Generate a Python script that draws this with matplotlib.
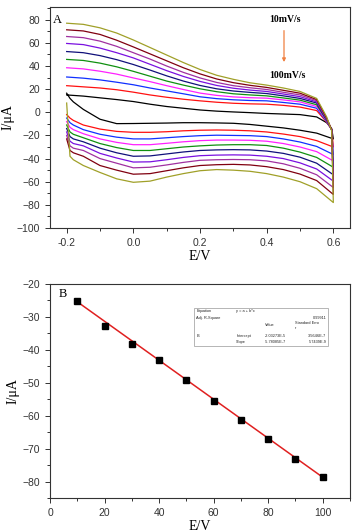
import matplotlib
matplotlib.use("Agg")
import matplotlib.pyplot as plt
from matplotlib.ticker import MultipleLocator
from matplotlib.patches import Rectangle

# ---------------- Panel A data: cyclic voltammograms ----------------
rates = ["10mV/s", "20mV/s", "30mV/s", "40mV/s", "50mV/s",
         "60mV/s", "70mV/s", "80mV/s", "90mV/s", "100mV/s"]
colors = ["#000000", "#ff1010", "#1030ff", "#ff20ff", "#109010",
          "#10107a", "#7a10e0", "#a030a0", "#800010", "#a0a028"]

E_up = [-0.2, -0.15, -0.1, -0.05, 0.0, 0.05, 0.1, 0.15, 0.2, 0.25, 0.3,
        0.35, 0.4, 0.45, 0.5, 0.55, 0.58, 0.595]
I_up = [
    [15, 14, 12.5, 11, 9.3, 7, 5, 3.5, 2, 1, 0.3, -0.3, -1, -1.5, -2, -4, -9, -14],
    [23, 22, 21, 19.5, 17.4, 15, 13, 11.3, 9.9, 8.7, 7.8, 7.3, 7, 6, 4.5, 1.5, -8.5, -15],
    [30.5, 29.5, 28, 26, 23.8, 21, 18.5, 16, 13.4, 11.8, 10.8, 10.2, 9.9, 8.5, 7, 3.5, -8, -15],
    [38.5, 37.5, 35.5, 33, 29.7, 26.5, 23, 19.7, 16.6, 14.6, 13.3, 12.6, 12.2, 10.7, 9, 5, -7.5, -15],
    [45.7, 44.8, 42.5, 39.3, 35.4, 31.2, 27, 23.5, 20.3, 17.8, 16, 15, 14.2, 12.4, 10.5, 6.5, -7, -15],
    [52.5, 51.5, 49, 45.5, 41.3, 36.5, 31.5, 27, 23.2, 20.3, 18.4, 17.2, 16.2, 14.2, 12, 8, -6.5, -15],
    [59.5, 58.5, 55.5, 51.5, 47, 41.5, 36, 31, 26.7, 23.2, 20.8, 19.2, 18, 15.8, 13.5, 9, -6, -15],
    [65.5, 64.5, 61.5, 57, 51.5, 46, 40, 34.5, 29.7, 25.8, 23, 21.2, 19.7, 17.3, 15, 10, -5.5, -15],
    [71.3, 70.3, 67.3, 62.3, 56.5, 50.5, 44.5, 38.5, 33.2, 28.8, 25.6, 23.3, 21.5, 19, 16.5, 11, -5, -15],
    [77, 76, 73, 68.5, 62.5, 56, 49.5, 43, 37, 32, 28.5, 25.5, 23.5, 21, 18, 12, -4, -16],
]

E_down = [0.6, 0.55, 0.5, 0.45, 0.4, 0.35, 0.3, 0.25, 0.2, 0.15, 0.1, 0.05,
          0.0, -0.05, -0.1, -0.15, -0.18, -0.19, -0.2]
I_down = [
    [-23, -18, -15.5, -13.5, -12, -10.5, -9.5, -9.2, -9, -9, -9.3, -9.5, -9.7, -9.8, -6, 2.5, 9, 12, 16.5],
    [-30, -24.5, -21, -18.8, -17, -16, -15.5, -15.3, -15.5, -16, -16.8, -17.3, -17.3, -16.5, -14.5, -11, -7, -5, -2],
    [-36.5, -29.5, -25.7, -23, -21, -20.2, -20, -19.8, -20.2, -21, -22, -23, -23, -21.5, -19, -15, -11, -9, -5],
    [-42, -34, -30, -27, -25, -24.2, -24, -24, -24.5, -25.5, -26.8, -28, -28, -26, -23, -18.5, -15, -13, -8],
    [-47.5, -39, -34.4, -31, -28.7, -28, -28, -28.3, -29, -30, -31.5, -33, -33, -30.5, -27, -22, -19, -17, -11],
    [-54, -44, -38.8, -35.5, -33.5, -32.5, -32.3, -32.5, -33, -34.3, -36, -37.7, -38, -35, -31, -25.5, -23, -21, -14],
    [-59.5, -49, -43.7, -40, -38, -37, -36.8, -37, -37.5, -39, -41, -42.8, -43, -39.5, -35.5, -29, -27, -25, -17],
    [-65, -54, -48.4, -44.5, -42, -41, -40.8, -41, -41.5, -43.3, -45.5, -47.5, -48, -44, -40, -33, -31, -29, -20],
    [-71, -59, -53.4, -49.5, -47, -45.5, -45, -45.3, -46, -48, -50.5, -53, -53.5, -50, -46, -38, -35, -33, -23],
    [-78, -66, -60, -56, -53, -51, -50, -49.5, -50.5, -53, -56, -59.5, -60.5, -57.5, -52, -46, -41, -38, 8],
]

# ---------------- Panel B data: peak current vs scan rate ----------------
scan_rate = [10, 20, 30, 40, 50, 60, 70, 80, 90, 100]
peak_current = [-25.3, -32.8, -38.2, -43.0, -49.2, -55.4, -61.2, -67.1, -73.3, -78.7]
fit_x = [10, 100]
fit_y = [-25.4, -78.7]

table_rows = [
    ["Equation", "y = a + b*x", "", ""],
    ["Adj. R-Square", "", "", "0.99911"],
    ["", "", "Value", "Standard Erro\nr"],
    ["B", "Intercept", "-2.03273E-5", "3.5646E-7"],
    ["", "Slope", "-5.78085E-7", "5.7439E-9"],
]

SANS = ["Liberation Sans", "DejaVu Sans"]
SERIF = ["Liberation Serif", "DejaVu Serif"]
plt.rcParams["font.family"] = SANS

fig = plt.figure(figsize=(3.52, 5.32), dpi=100)
W, H = 352, 532
axA = fig.add_axes([50 / W, 1 - 228 / H, 300 / W, 221 / H])
axB = fig.add_axes([50 / W, 1 - 498 / H, 300 / W, 214 / H])

for ax in (axA, axB):
    for s in ax.spines.values():
        s.set_linewidth(0.8)
        s.set_color("#333333")
    ax.tick_params(which="both", direction="out", top=False, right=False,
                   labelsize=7.5, colors="#333333", width=0.7)
    ax.tick_params(which="major", length=3.5)
    ax.tick_params(which="minor", length=2)

# Panel A
for k in range(len(rates)):
    ax_E = E_up + E_down
    ax_I = I_up[k] + I_down[k]
    axA.plot(ax_E, ax_I, color=colors[k], lw=0.9, solid_joinstyle="round")
axA.set_xlim(-0.25, 0.65)
axA.set_ylim(-100, 91)
axA.xaxis.set_major_locator(MultipleLocator(0.2))
axA.xaxis.set_minor_locator(MultipleLocator(0.1))
axA.yaxis.set_major_locator(MultipleLocator(20))
axA.yaxis.set_minor_locator(MultipleLocator(10))
axA.set_xticks([-0.2, 0.0, 0.2, 0.4, 0.6])
axA.set_xticklabels(["-0.2", "0.0", "0.2", "0.4", "0.6"])
axA.set_xlabel("E/V", family=SERIF, fontsize=10, labelpad=2)
axA.set_ylabel("I/\u03bcA", family=SERIF, fontsize=10, labelpad=2)
axA.text(-0.242, 80, "A", family=SERIF, fontsize=9, va="center", ha="left")
axA.text(0.455, 80, rates[0], family=SERIF, fontsize=7, fontweight="bold",
         ha="center", va="center")
axA.text(0.462, 31.5, rates[-1], family=SERIF, fontsize=7, fontweight="bold",
         ha="center", va="center")
axA.annotate("", xy=(0.452, 41), xytext=(0.452, 73),
             arrowprops=dict(arrowstyle="-|>", color="#f08040", lw=0.9,
                             mutation_scale=5))

# Panel B
axB.plot(fit_x, fit_y, color="#e02020", lw=1.1, zorder=2)
axB.plot(scan_rate, peak_current, linestyle="none", marker="s", ms=4.5,
         color="#000000", zorder=3)
axB.set_xlim(0, 110)
axB.set_ylim(-85, -20)
axB.xaxis.set_major_locator(MultipleLocator(20))
axB.xaxis.set_minor_locator(MultipleLocator(10))
axB.yaxis.set_major_locator(MultipleLocator(10))
axB.yaxis.set_minor_locator(MultipleLocator(5))
axB.set_xlabel("E/V", family=SERIF, fontsize=10, labelpad=2)
axB.set_ylabel("I/\u03bcA", family=SERIF, fontsize=10, labelpad=2)
axB.text(3, -23, "B", family=SERIF, fontsize=9, va="center", ha="left")

# fit statistics inset
axB.add_patch(Rectangle((52.7, -38.8), 49.3, 11.4, facecolor="white",
                        edgecolor="#aaaaaa", lw=0.6, zorder=4))
row_y = [-28.3, -30.3, -32.6, -35.8, -37.6]
col_x = [53.6, 68.3, 78.7, 101.3]
for r, row in enumerate(table_rows):
    for c, txt in enumerate(row):
        if not txt:
            continue
        if c == 3 and r != 2:
            axB.text(col_x[3], row_y[r], txt, fontsize=2.8, ha="right",
                     va="center", zorder=5, color="#222222")
        elif c == 3:
            axB.text(89.8, row_y[r], txt, fontsize=2.8, ha="left",
                     va="center", zorder=5, color="#222222", linespacing=1.2)
        else:
            axB.text(col_x[c], row_y[r], txt, fontsize=2.8, ha="left",
                     va="center", zorder=5, color="#222222")

fig.savefig("out.png", dpi=100)
